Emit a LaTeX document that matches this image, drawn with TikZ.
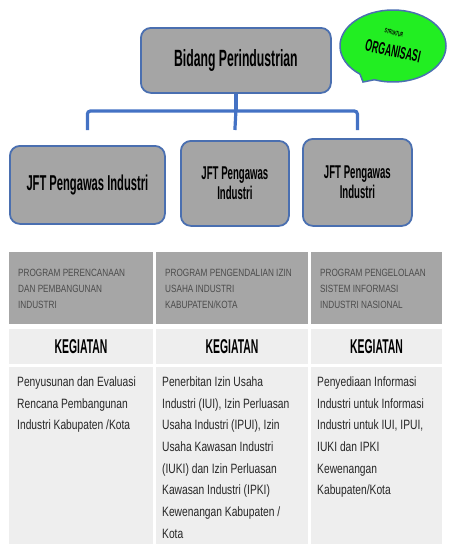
\documentclass[tikz,border=0pt]{standalone}
\usepackage{fontspec}
\setmainfont{Liberation Sans}
\newfontfamily\titlefont[FakeStretch=0.52]{Liberation Sans}
\newfontfamily\bodyfont[FakeStretch=0.76]{Liberation Sans}
\newfontfamily\headfont[FakeStretch=0.78]{Liberation Sans}
\usetikzlibrary{shapes.callouts}

\definecolor{boxgray}{HTML}{A5A5A5}
\definecolor{boxblue}{HTML}{4A6FB0}
\definecolor{linkblue}{HTML}{4472C4}
\definecolor{cellgray}{HTML}{A6A6A6}
\definecolor{cellpale}{HTML}{EEEEEE}
\definecolor{bubblegreen}{HTML}{22EE22}
\definecolor{inktext}{HTML}{262626}

\tikzset{
  unit/.style={draw=boxblue, line width=1.8pt, fill=boxgray, rounded corners=10pt,
    align=center, inner sep=0pt, anchor=north west},
  link/.style={draw=linkblue, line width=3.2pt},
  cell/.style={anchor=north west, inner sep=0pt, outer sep=0pt},
  headtext/.style={anchor=north west, inner sep=0pt, align=left, text=black!70,
    font=\headfont\fontsize{10.5}{16}\selectfont},
  bodytext/.style={anchor=north west, inner sep=0pt, align=left, text=inktext,
    font=\bodyfont\fontsize{13.5}{21.7}\selectfont},
  acttext/.style={font=\titlefont\bfseries\fontsize{20}{20}\selectfont, text=black},
  bubbletext/.style={inner sep=0pt, font=\titlefont\bfseries, text=black},
}

\begin{document}
\begin{tikzpicture}[x=1pt, y=-1pt]
\useasboundingbox (0,0) rectangle (452,544);

% organisation boxes
\node[unit, minimum width=190pt, minimum height=65pt,
      font=\titlefont\bfseries\fontsize{23.5}{23.5}\selectfont] (top) at (140,27) {Bidang Perindustrian};
\node[unit, minimum width=155pt, minimum height=78pt,
      font=\titlefont\bfseries\fontsize{21.5}{21.5}\selectfont] (j1) at (9,145) {JFT Pengawas Industri};
\node[unit, minimum width=108pt, minimum height=85pt,
      font=\titlefont\bfseries\fontsize{18.5}{20}\selectfont] (j2) at (180,140) {JFT Pengawas\\Industri};
\node[unit, minimum width=109pt, minimum height=87pt,
      font=\titlefont\bfseries\fontsize{18.5}{20}\selectfont] (j3) at (302,138) {JFT Pengawas\\Industri};

% speech bubble
\node[ellipse callout, draw=boxblue, line width=1.5pt, fill=bubblegreen,
      minimum width=106pt, minimum height=72pt, callout absolute pointer={(363,82)},
      callout pointer arc=18] (bubble) at (393,46) {};
\node[bubbletext, rotate=-14, font=\titlefont\bfseries\fontsize{6.5}{7}\selectfont]
      (bubtop) at (394,33) {STRUKTUR};
\node[bubbletext, rotate=-12, font=\titlefont\bfseries\fontsize{17}{17}\selectfont]
      (bubmain) at (393,51) {ORGANISASI};

% connectors
\coordinate (bus) at (top.south |- 0,111);
\coordinate (d1) at (j1.north |- 0,130);
\coordinate (d2) at (j2.north |- 0,130);
\coordinate (d3) at (j3.north |- 0,130);
\draw[link] (top.south) -- (bus);
\draw[link] (bus) -- (d2);
\draw[link, rounded corners=3pt] (d1) |- (bus) -| (d3);

% table: programme row
\node[cell, fill=cellgray, minimum width=144pt, minimum height=72pt] (h1) at (9,252) {};
\node[cell, fill=cellgray, minimum width=152pt, minimum height=72pt] (h2) at (156,252) {};
\node[cell, fill=cellgray, minimum width=131pt, minimum height=72pt] (h3) at (311,252) {};
\node[headtext] (h1t) at (18,268.5) {PROGRAM PERENCANAAN\\DAN PEMBANGUNAN\\INDUSTRI};
\node[headtext] (h2t) at (165,268.5) {PROGRAM PENGENDALIAN IZIN\\USAHA INDUSTRI\\KABUPATEN/KOTA};
\node[headtext] (h3t) at (320,268.5) {PROGRAM PENGELOLAAN\\SISTEM INFORMASI\\INDUSTRI NASIONAL};

% table: activity heading row
\node[cell, fill=cellpale, minimum width=144pt, minimum height=35pt] (k1) at (9,329) {};
\node[cell, fill=cellpale, minimum width=152pt, minimum height=35pt] (k2) at (156,329) {};
\node[cell, fill=cellpale, minimum width=131pt, minimum height=35pt] (k3) at (311,329) {};
\node[acttext] (k1t) at (k1.center) {KEGIATAN};
\node[acttext] (k2t) at (k2.center) {KEGIATAN};
\node[acttext] (k3t) at (k3.center) {KEGIATAN};

% table: activity description row
\node[cell, fill=cellpale, minimum width=144pt, minimum height=177pt] (b1) at (9,367) {};
\node[cell, fill=cellpale, minimum width=152pt, minimum height=177pt] (b2) at (156,367) {};
\node[cell, fill=cellpale, minimum width=131pt, minimum height=177pt] (b3) at (311,367) {};
\node[bodytext] (b1t) at (17,376.5) {Penyusunan dan Evaluasi\\Rencana Pembangunan\\Industri Kabupaten /Kota};
\node[bodytext] (b2t) at (162,376.5) {Penerbitan Izin Usaha\\Industri (IUI), Izin Perluasan\\Usaha Industri (IPUI), Izin\\Usaha Kawasan Industri\\(IUKI) dan Izin Perluasan\\Kawasan Industri (IPKI)\\Kewenangan Kabupaten /\\Kota};
\node[bodytext] (b3t) at (317,376.5) {Penyediaan Informasi\\Industri untuk Informasi\\Industri untuk IUI, IPUI,\\IUKI dan IPKI\\Kewenangan\\Kabupaten/Kota};
\end{tikzpicture}
\end{document}
